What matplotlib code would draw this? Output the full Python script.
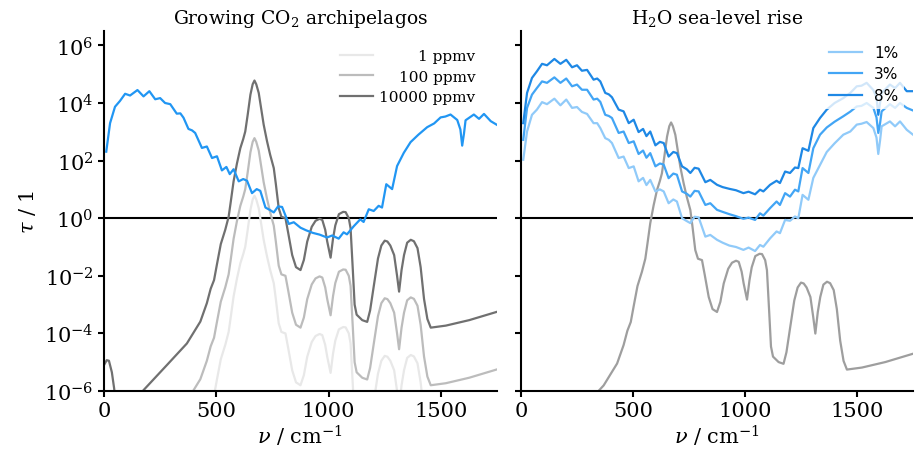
import numpy as np
import matplotlib
matplotlib.use('Agg')
import matplotlib.pyplot as plt

plt.rcParams['font.family'] = 'DejaVu Serif'
plt.rcParams['mathtext.fontset'] = 'dejavuserif'

# CO2 optical depth (log10) at 10000 ppmv
wn_co2 = [0, 12, 22, 35, 45, 55, 60, 150, 176, 280, 369, 429, 458, 475, 490, 503, 520, 540, 555,
          565, 577, 592, 607, 620, 629, 640, 652, 662, 670, 678, 689, 700, 711, 720, 726, 740, 756,
          765, 778, 790, 808, 820, 838, 855, 875, 890, 905, 925, 942, 960, 972, 985, 994, 1009,
          1020, 1030, 1046, 1065, 1076, 1090, 1098, 1108, 1116, 1125, 1150, 1172, 1185, 1202,
          1220, 1235, 1250, 1262, 1275, 1292, 1305, 1314, 1325, 1336, 1350, 1366, 1380, 1396,
          1410, 1425, 1440, 1455, 1522, 1626, 1750]
log_tau_co2 = [-5.1, -4.93, -4.95, -5.35, -5.9, -6.6, -7.0, -6.22, -5.97, -5.10, -4.35, -3.59, -2.95,
               -2.45, -2.15, -1.6, -0.9, -0.4, 0.05, 0.6, 1.28, 1.9, 2.43, 2.75, 3.01, 3.6, 4.29,
               4.65, 4.78, 4.65, 4.35, 3.8, 3.25, 2.9, 2.67, 2.2, 1.74, 1.2, 0.35, 0.05, 0.0, -0.5,
               -1.28, -1.7, -1.80, -1.45, -0.81, -0.3, -0.09, -0.02, -0.06, -0.4, -0.81, -1.37,
               -0.7, -0.25, 0.14, 0.22, 0.21, 0.0, -0.35, -1.8, -3.0, -3.35, -3.54, -3.6, -3.2,
               -2.32, -1.4, -0.95, -0.78, -0.81, -0.95, -1.28, -2.0, -2.55, -1.8, -1.28, -0.85,
               -0.75, -0.8, -1.04, -1.7, -2.8, -3.5, -3.80, -3.73, -3.54, -3.25]
co2_ref_ppmv = 10000
co2_ppmv = [1, 100, 10000]
co2_labels = ['1 ppmv', '100 ppmv', '10000 ppmv']
co2_colors = ['#e8e8e8', '#bcbcbc', '#707070']
co2_background_ppmv = 350

# H2O optical depth (log10)
wn_h2o = [10, 27, 49, 71, 94, 116, 149, 176, 202, 228, 250, 272, 295, 324, 340, 354, 376, 392, 406,
          436, 458, 481, 503, 525, 545, 560, 577, 600, 620, 637, 659, 680, 696, 719, 740, 756, 775,
          793, 823, 845, 875, 900, 930, 960, 993, 1016, 1045, 1067, 1082, 1112, 1141, 1156, 1179,
          1201, 1223, 1238, 1257, 1283, 1305, 1335, 1365, 1400, 1439, 1470, 1499, 1520, 1543, 1573,
          1587, 1595, 1603, 1610, 1647, 1670, 1692, 1722, 1750]
log_tau_h2o_dry = [2.31, 3.30, 3.87, 4.07, 4.32, 4.26, 4.45, 4.23, 4.41, 4.13, 4.17, 4.0, 3.96, 3.63,
                   3.64, 3.49, 3.10, 3.05, 2.96, 2.44, 2.49, 2.09, 2.15, 1.66, 1.78, 1.53, 1.70,
                   1.28, 1.36, 1.30, 0.87, 1.01, 0.95, 0.37, 0.28, 0.2, 0.41, 0.39, -0.2, -0.14,
                   -0.33, -0.42, -0.51, -0.57, -0.67, -0.60, -0.71, -0.49, -0.56, -0.28, -0.04,
                   -0.13, 0.31, 0.25, 0.43, 0.37, 1.18, 1.01, 1.81, 2.27, 2.64, 2.9, 3.16, 3.29,
                   3.5, 3.53, 3.6, 3.41, 3.08, 2.52, 2.94, 3.4, 3.6, 3.45, 3.62, 3.37, 3.24]
log_tau_h2o_1 = [2.03, 3.01, 3.59, 3.77, 4.03, 3.96, 4.15, 3.92, 4.12, 3.83, 3.86, 3.69, 3.62, 3.30,
                 3.3, 3.13, 2.78, 2.72, 2.61, 2.09, 2.14, 1.74, 1.80, 1.28, 1.40, 1.15, 1.33, 0.93,
                 1.0, 0.93, 0.52, 0.65, 0.58, 0.0, -0.1, -0.17, 0.05, 0.03, -0.64, -0.58, -0.75,
                 -0.85, -0.95, -1.0, -1.10, -1.02, -1.14, -0.93, -0.99, -0.70, -0.46, -0.52, -0.06,
                 -0.09, 0.06, 0.0, 0.81, 0.64, 1.4, 1.85, 2.3, 2.6, 2.90, 3.01, 3.25, 3.28, 3.34,
                 3.13, 2.8, 2.23, 2.7, 3.19, 3.36, 3.19, 3.36, 3.07, 2.90]
log_tau_h2o_3 = [2.72, 3.83, 4.29, 4.52, 4.75, 4.70, 4.89, 4.70, 4.85, 4.58, 4.64, 4.46, 4.46, 4.12,
                 4.15, 4.04, 3.59, 3.55, 3.48, 2.96, 3.01, 2.61, 2.67, 2.23, 2.35, 2.10, 2.26, 1.80,
                 1.90, 1.86, 1.39, 1.55, 1.51, 0.93, 0.85, 0.75, 0.95, 0.93, 0.46, 0.52, 0.29, 0.22,
                 0.14, 0.07, -0.02, 0.02, -0.06, 0.17, 0.09, 0.35, 0.58, 0.46, 0.87, 0.75, 0.99,
                 0.93, 1.74, 1.57, 2.43, 2.90, 3.15, 3.35, 3.54, 3.70, 3.88, 3.90, 4.00, 3.83, 3.5,
                 2.96, 3.3, 3.71, 3.96, 3.83, 4.00, 3.83, 3.74]
log_tau_h2o_8 = [3.30, 4.35, 4.87, 5.10, 5.36, 5.31, 5.53, 5.36, 5.50, 5.24, 5.31, 5.12, 5.15, 4.81,
                 4.85, 4.75, 4.35, 4.30, 4.20, 3.77, 3.71, 3.30, 3.42, 2.99, 3.10, 2.85, 3.01, 2.53,
                 2.65, 2.61, 2.14, 2.3, 2.26, 1.80, 1.70, 1.57, 1.75, 1.72, 1.25, 1.33, 1.16, 1.08,
                 1.02, 0.97, 0.87, 0.92, 0.83, 0.99, 0.93, 1.16, 1.30, 1.22, 1.62, 1.57, 1.76, 1.74,
                 2.43, 2.34, 3.13, 3.48, 3.77, 4.0, 4.17, 4.35, 4.58, 4.60, 4.70, 4.45, 4.2, 3.59,
                 4.0, 4.35, 4.64, 4.52, 4.70, 4.41, 4.41]
h2o_labels = ['1%', '3%', '8%']
h2o_colors = ['#90caf9', '#42a5f5', '#1e88e5']
h2o_dry_color = '#2196f3'
co2_background_color = '#9e9e9e'

tau_co2 = 10 ** np.array(log_tau_co2)

fig = plt.figure(figsize=(9.15, 4.52), dpi=100)
ax1 = fig.add_axes([104 / 915, 1 - 392 / 452, 393 / 915, 360 / 452])
ax2 = fig.add_axes([521 / 915, 1 - 392 / 452, 392 / 915, 360 / 452], sharey=ax1)

# left: growing CO2
for ppmv, lab, col in zip(co2_ppmv, co2_labels, co2_colors):
    ax1.plot(wn_co2, tau_co2 * ppmv / co2_ref_ppmv, color=col, lw=1.6, label=lab)
ax1.plot(wn_h2o, 10 ** np.array(log_tau_h2o_dry), color=h2o_dry_color, lw=1.6)
ax1.set_title('Growing CO$_2$ archipelagos', fontsize=13.5)

# right: H2O
ax2.plot(wn_co2, tau_co2 * co2_background_ppmv / co2_ref_ppmv, color=co2_background_color, lw=1.6)
for vals, lab, col in zip([log_tau_h2o_1, log_tau_h2o_3, log_tau_h2o_8], h2o_labels, h2o_colors):
    ax2.plot(wn_h2o, 10 ** np.array(vals), color=col, lw=1.6, label=lab)
ax2.set_title('H$_2$O sea-level rise', fontsize=13.5)

for ax in (ax1, ax2):
    ax.axhline(1, color='black', lw=1.5, zorder=1)
    ax.set_yscale('log')
    ax.set_ylim(1e-6, 10 ** 6.5)
    ax.set_xlim(0, 1750)
    ax.set_xticks([0, 500, 1000, 1500])
    ax.set_yticks([1e-6, 1e-4, 1e-2, 1e0, 1e2, 1e4, 1e6])
    ax.minorticks_off()
    ax.spines['top'].set_visible(False)
    ax.spines['right'].set_visible(False)
    for s in ('left', 'bottom'):
        ax.spines[s].set_linewidth(1.5)
    ax.tick_params(width=1.5, length=4, labelsize=15)
    ax.set_xlabel(r'$\nu$ / cm$^{-1}$', fontsize=15, labelpad=2)
ax2.tick_params(labelleft=False)
ax1.set_ylabel(r'$\tau$ / 1', fontsize=15, labelpad=4)

leg1 = ax1.legend(loc='upper right', bbox_to_anchor=(0.961, 0.966), borderaxespad=0,
                  fontsize=11, handlelength=2.2, handletextpad=0.4, labelspacing=0.42,
                  frameon=True, edgecolor='none', framealpha=0.8)
leg2 = ax2.legend(loc='upper right', bbox_to_anchor=(0.978, 0.978), borderaxespad=0,
                  handlelength=2.2, handletextpad=0.75, labelspacing=0.42,
                  prop={'family': 'DejaVu Sans', 'size': 11},
                  frameon=True, edgecolor='none', framealpha=0.8)

# right-align the CO2 legend labels
fig.canvas.draw()
r = fig.canvas.get_renderer()
texts = leg1.get_texts()
widths = [t.get_window_extent(r).width for t in texts]
for t, w in zip(texts, widths):
    t.set_position((max(widths) - w, 0))

fig.savefig('out.png', dpi=100)
